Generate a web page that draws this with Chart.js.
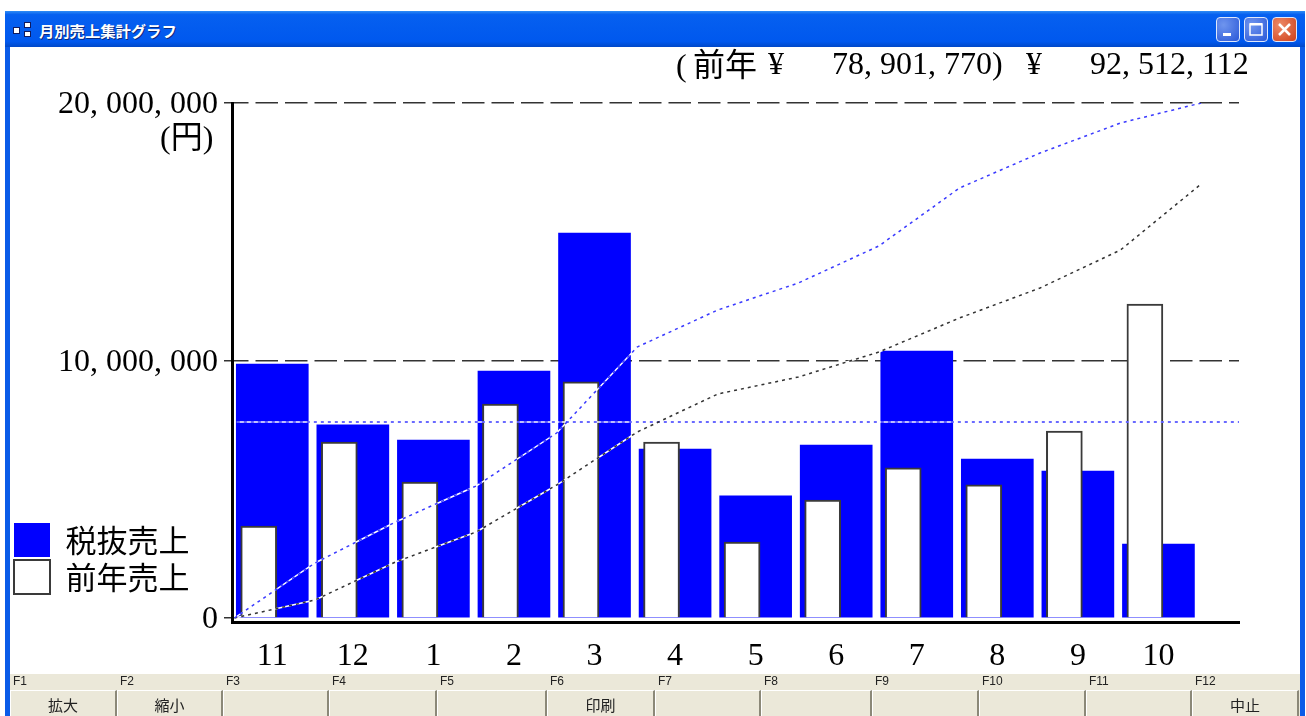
<!DOCTYPE html>
<html lang="ja">
<head>
<meta charset="utf-8">
<title>月別売上集計グラフ</title>
<script src="https://cdn.jsdelivr.net/npm/chart.js@4"></script>
<style>
	html, body { margin: 0; padding: 0; background: #fff; overflow: hidden; }
	body { width: 1306px; height: 716px; position: relative; font-family: "Liberation Serif", "Noto Sans CJK JP", serif; color: #000; }
	#frame { position: absolute; left: 5px; top: 11px; width: 1300px; height: 705px; background: #0a5be8; }
	#titlebar { position: absolute; left: 5px; top: 11px; width: 1300px; height: 36px; background: linear-gradient(#2f8cf5 0, #0660f0 10%, #0058ee 85%, #0048c8 100%); }
	#titletext { position: absolute; left: 39px; top: 20px; font: bold 15.3px "Noto Sans CJK JP", sans-serif; line-height: 20px; color: #fff; text-shadow: 1px 1px 0 #0a2a80; }
	#content { position: absolute; left: 10px; top: 47px; width: 1290px; height: 627px; background: #fff; }
	#fbar { position: absolute; left: 10px; top: 674px; width: 1290px; height: 42px; background: #ebe8d9; }
	.fkey { position: absolute; top: 673px; font: 12px "Liberation Sans", sans-serif; line-height: 16px; color: #222; }
	.fbtn { position: absolute; top: 690px; height: 26px; box-sizing: border-box; background: #ebe8d9; border-top: 1px solid #fff; border-left: 1px solid #fff; border-right: 2px solid #8b8878; text-align: center; font: 15px "Noto Sans CJK JP", sans-serif; line-height: 27px; color: #222; }
	.wbtn { position: absolute; top: 17px; width: 24px; height: 25px; box-sizing: border-box; border: 1px solid #dfe8fb; border-radius: 4px; background: radial-gradient(circle at 30% 30%, #6f95ee, #2a58d8); }
	.wbtn.close { background: radial-gradient(circle at 30% 30%, #ec8a68, #d0401a); }
	.wbtn svg { position: absolute; left: 0; top: 0; }
	.big { position: absolute; font-size: 32px; line-height: 36px; white-space: pre; }
	.mark { position: absolute; background: #fff; border: 1px solid #101a60; box-sizing: border-box; }
	#chartCanvas { position: absolute; left: 0; top: 0; }
</style>
</head>
<body>
	<div id="frame"></div>
	<div id="titlebar"></div>
	<div class="mark" style="left:13px;top:27px;width:7px;height:7px"></div>
	<div class="mark" style="left:24px;top:22px;width:7px;height:6px"></div>
	<div class="mark" style="left:24px;top:31px;width:7px;height:6px"></div>
	<div id="titletext">月別売上集計グラフ</div>
	<div class="wbtn" style="left:1216px"><svg width="22" height="23"><rect x="6" y="15" width="8" height="3" fill="#fff"/></svg></div>
	<div class="wbtn" style="left:1244px"><svg width="22" height="23"><rect x="5" y="6" width="12" height="11" fill="none" stroke="#fff" stroke-width="1.5"/><rect x="5" y="5" width="12" height="2.5" fill="#fff"/></svg></div>
	<div class="wbtn close" style="left:1272px;width:25px"><svg width="23" height="23"><path d="M6 6 L17 17 M17 6 L6 17" stroke="#fff" stroke-width="2.5"/></svg></div>
	<div id="content"></div>
	<div id="fbar"></div>
	<canvas id="chartCanvas" width="1306" height="716"></canvas>

<script>
	// values
	var months = ["11", "12", "1", "2", "3", "4", "5", "6", "7", "8", "9", "10"];
	var salesLabel = "税抜売上";
	var lastYearLabel = "前年売上";
	var sales = [9860000, 7500000, 6910000, 9590000, 14950000, 6560000, 4740000, 6720000, 10370000, 6170000, 5710000, 2870000];
	var lastYear = [3570000, 6830000, 5280000, 8310000, 9170000, 6830000, 2950000, 4580000, 5830000, 5170000, 7260000, 12190000];

	// running totals, first point is the origin
	var salesTotal = [0, 9880000, 17250000, 23710000, 33230000, 48680000, 55330000, 60180000, 66830000, 77240000, 83530000, 88920000, 92512112];
	var lastYearTotal = [0, 3230000, 10060000, 15450000, 23890000, 33410000, 40240000, 43290000, 47780000, 53890000, 59280000, 66110000, 77960000];
	var salesAverage = 7610000;

	var yTicks = [0, 10000000, 20000000];
	var yTickLabels = ["0", "10, 000, 000", "20, 000, 000"];
	var yUnit = "(円)";
	var totalTexts = [["(\u2009前年", 676, 47], ["¥", 768, 45], ["78, 901, 770)", 832, 45], ["¥", 1026, 45], ["92, 512, 112", 1090, 45]];

	var fKeys = ["F1", "F2", "F3", "F4", "F5", "F6", "F7", "F8", "F9", "F10", "F11", "F12"];
	var fNames = ["拡大", "縮小", "", "", "", "印刷", "", "", "", "", "", "中止"];
	var fLeft = [10, 117, 223, 329, 437, 547, 655, 761, 872, 979, 1086, 1192, 1299];

	// window furniture
	for (var i = 0; i < fKeys.length; i++) {
		var key = document.createElement('div');
		key.className = 'fkey';
		key.style.left = (fLeft[i] + 3) + 'px';
		key.textContent = fKeys[i];
		document.body.appendChild(key);

		var btn = document.createElement('div');
		btn.className = 'fbtn';
		btn.style.left = fLeft[i] + 'px';
		btn.style.width = (fLeft[i + 1] - fLeft[i]) + 'px';
		btn.textContent = fNames[i];
		document.body.appendChild(btn);
	}

	totalTexts.forEach(function(t) {
		var el = document.createElement('div');
		el.className = 'big';
		el.style.left = t[1] + 'px';
		el.style.top = t[2] + 'px';
		el.textContent = t[0];
		document.body.appendChild(el);
	});

	var unit = document.createElement('div');
	unit.className = 'big';
	unit.style.left = '160px';
	unit.style.top = '119px';
	unit.textContent = yUnit;
	document.body.appendChild(unit);

	// helpers, turning the lists into {x, y} for the linear x scales
	function barPoints(list) {
		return list.map(function(v, i) { return { x: i, y: v }; });
	}
	function totalPoints(list) {
		return list.map(function(v, i) { return { x: i - 0.47, y: v }; });
	}
	var averagePoints = [{ x: -0.44, y: salesAverage }, { x: 12, y: salesAverage }];

	var dash = [3, 4];

	// the dotted lines show white in the gaps where they cross a blue bar
	function dottedLine(points, color, yAxis) {
		return [
			{ type: 'line', data: points, yAxisID: yAxis, xAxisID: 'x', order: 2, borderColor: '#fff', borderWidth: 1.5, pointRadius: 0, tension: 0 },
			{ type: 'line', data: points, yAxisID: yAxis, xAxisID: 'x', order: 1, borderColor: color, borderWidth: 1.5, borderDash: dash, pointRadius: 0, tension: 0 }
		];
	}

	// the axis labels need the whole left margin, so the legend is laid out
	// off the canvas and moved back over the margin just before drawing
	var legendOutside = 170;
	var legendMove = {
		id: 'legendMove',
		beforeDraw: function(chart) {
			var legend = chart.legend;
			var w = legend.width;
			legend.left = 11;
			legend.right = 11 + w;
			legend.bottom = 597;
		}
	};

	var ctx = document.getElementById('chartCanvas').getContext('2d');
	var tickFont = { family: '"Liberation Serif", "Noto Sans CJK JP", serif', size: 32 };

	var myChart = new Chart(ctx, {
		type: 'bar',
		plugins: [legendMove],
		data: {
			datasets: [
				{ label: salesLabel, data: barPoints(sales), xAxisID: 'x', yAxisID: 'y', order: 6, grouped: false, barThickness: 72, backgroundColor: '#0000ff', borderColor: '#0000ff', borderWidth: 0 },
				{ label: lastYearLabel, data: barPoints(lastYear), xAxisID: 'x2', yAxisID: 'y', order: 5, grouped: false, barThickness: 36, backgroundColor: '#fff', borderColor: '#3a3a3a', borderWidth: 2 }
			].concat(
				dottedLine(totalPoints(salesTotal), '#3a3aff', 'y2'),
				dottedLine(totalPoints(lastYearTotal), '#333', 'y2'),
				dottedLine(averagePoints, '#3a3aff', 'y')
			)
		},
		options: {
			responsive: false,
			animation: false,
			devicePixelRatio: 1,
			layout: { padding: { left: 11 - legendOutside, top: 103, right: 67, bottom: 0 } },
			plugins: {
				title: { display: false },
				tooltip: { enabled: false },
				legend: {
					position: 'left',
					align: 'end',
					fullSize: false,
					labels: {
						boxWidth: 36,
						boxHeight: 34,
						padding: 3,
						color: '#000',
						font: { family: '"Noto Sans CJK JP", sans-serif', size: 31, lineHeight: 1 },
						filter: function(item) { return item.datasetIndex < 2; },
						sort: function(a, b) { return a.datasetIndex - b.datasetIndex; }
					}
				}
			},
			scales: {
				x: {
					type: 'linear',
					offset: false,
					min: -0.5,
					max: 12,
					afterBuildTicks: function(scale) {
						scale.ticks = months.map(function(m, i) { return { value: i }; });
					},
					afterFit: function(scale) { scale.height = 94; },
					grid: { display: false },
					border: { display: true, color: '#000', width: 3 },
					ticks: {
						autoSkip: false,
						maxRotation: 0,
						padding: 7,
						color: '#000',
						font: tickFont,
						callback: function(v) { return months[v]; }
					}
				},
				// white bars sit left of the blue ones, a shifted hidden axis does it
				x2: { type: 'linear', offset: false, display: false, min: -0.332, max: 12.168 },
				y: {
					min: -155000,
					max: 20000000,
					afterBuildTicks: function(scale) {
						scale.ticks = yTicks.map(function(v) { return { value: v }; });
					},
					afterFit: function(scale) { scale.width = 232 - (11 - legendOutside) - scale.chart.legend.width; },
					border: { display: true, color: '#000', width: 3, dash: [22.5, 7], dashOffset: 8 },
					grid: {
						color: function(c) { return c.tick && c.tick.value > 0 ? '#333' : 'rgba(0,0,0,0)'; },
						lineWidth: 1.5,
						tickColor: '#333',
						tickWidth: 1.5,
						tickLength: 8
					},
					ticks: {
						padding: 6,
						labelOffset: 2,
						color: '#000',
						font: tickFont,
						callback: function(v) { return yTickLabels[yTicks.indexOf(v)]; }
					}
				},
				y2: { display: false, min: -718000, max: 92512112 }
			}
		}
	});
</script>
</body>
</html>
